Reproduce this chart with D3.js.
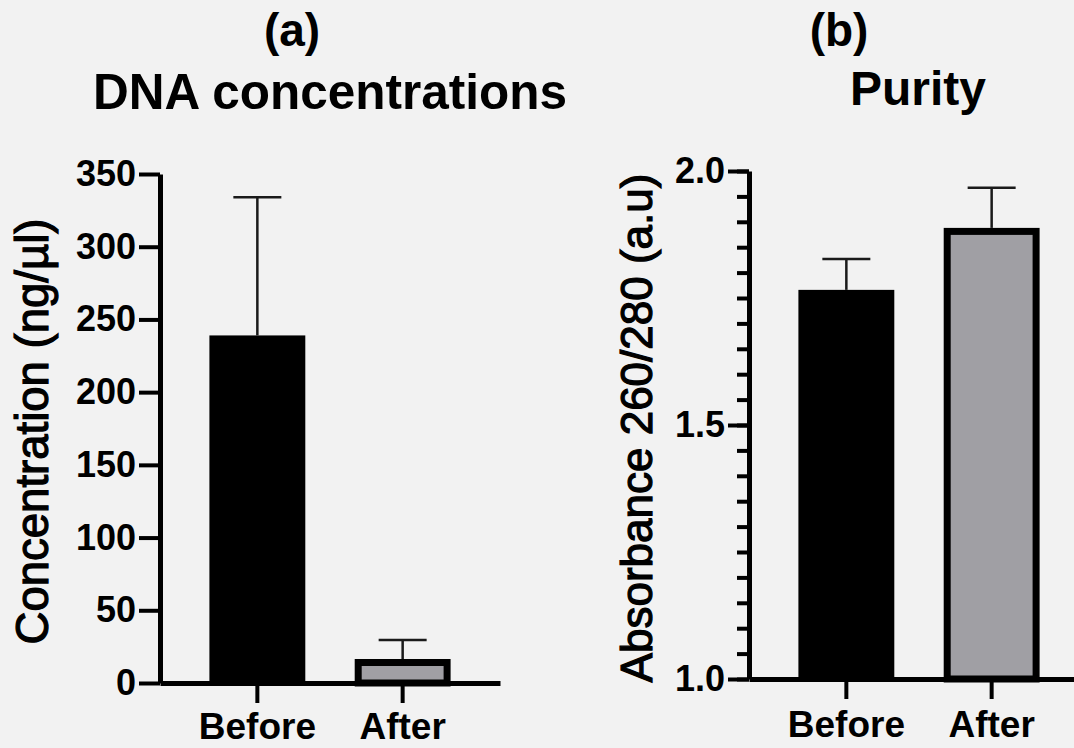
<!DOCTYPE html>
<html>
<head>
<meta charset="utf-8">
<script src="https://cdn.jsdelivr.net/npm/d3@7"></script>
<style>
  body { margin: 0; background: #f2f2f2; }
  svg { display: block; font-family: "Liberation Sans", Arial, sans-serif; }
</style>
</head>
<body>
<svg id="chart"></svg>
<script>
// data
const categories = ["Before", "After"];
const concMean = [239, 16.5];
const concSD = [95, 13];
const purityMean = [1.766, 1.888];
const puritySD = [0.061, 0.079];
const concTicks = [0, 50, 100, 150, 200, 250, 300, 350];
const purityTicks = [1.0, 1.5, 2.0];
const purityMinor = d3.range(0, 21).map(function(i) { return 1 + i * 0.05; });

const width = 1074;
const height = 748;
const barColors = ["#000000", "#a09fa4"];

var svg = d3.select("#chart")
  .attr("width", width)
  .attr("height", height);

svg.append("rect")
  .attr("width", width)
  .attr("height", height)
  .attr("fill", "#f2f2f2");

// one panel = band x scale + linear y scale, drawn at its own place
function drawPanel(opt) {
  var g = svg.append("g");

  var x = d3.scaleBand()
    .domain(categories)
    .range([opt.left, opt.right])
    .padding(0.34);

  var y = d3.scaleLinear()
    .domain(opt.domain)
    .range([opt.bottom, opt.top]);

  // minor ticks (panel b only)
  if (opt.minor) {
    g.append("g")
      .attr("transform", "translate(" + opt.left + ",0)")
      .call(d3.axisLeft(y).tickValues(opt.minor).tickSize(12).tickSizeOuter(0).tickFormat(""))
      .call(function(a) {
        a.select(".domain").remove();
        a.selectAll("line").attr("stroke", "#000").attr("stroke-width", 4);
      });
  }

  // y axis
  var yAxis = g.append("g")
    .attr("transform", "translate(" + opt.left + ",0)")
    .call(d3.axisLeft(y).tickValues(opt.ticks).tickSize(21).tickSizeOuter(0)
      .tickPadding(3).tickFormat(opt.format));
  yAxis.select(".domain").attr("stroke", "#000").attr("stroke-width", 5);
  yAxis.selectAll(".tick line").attr("stroke", "#000").attr("stroke-width", 4);
  yAxis.selectAll(".tick text")
    .attr("fill", "#000")
    .style("font-size", "36px")
    .style("font-weight", "bold");

  // bars
  g.selectAll(".bar")
    .data(categories)
    .enter().append("rect")
    .attr("class", "bar")
    .attr("x", function(d, i) { return x(d) + (i ? 3.5 : 0); })
    .attr("y", function(d, i) { return y(opt.mean[i]) + (i ? 3.5 : 0); })
    .attr("width", function(d, i) { return x.bandwidth() - (i ? 7 : 0); })
    .attr("height", function(d, i) { return y(opt.domain[0]) - y(opt.mean[i]) - (i ? 3.5 : 0); })
    .attr("fill", function(d, i) { return barColors[i]; })
    .attr("stroke", function(d, i) { return i ? "#000" : "none"; })
    .attr("stroke-width", 7);

  // error bars (upper only)
  g.selectAll(".err")
    .data(categories)
    .enter().append("line")
    .attr("x1", function(d) { return x(d) + x.bandwidth() / 2; })
    .attr("x2", function(d) { return x(d) + x.bandwidth() / 2; })
    .attr("y1", function(d, i) { return y(opt.mean[i]); })
    .attr("y2", function(d, i) { return y(opt.mean[i] + opt.sd[i]); })
    .attr("stroke", "#1a1a1a")
    .attr("stroke-width", 2.5);

  g.selectAll(".cap")
    .data(categories)
    .enter().append("line")
    .attr("x1", function(d) { return x(d) + x.bandwidth() / 2 - 24; })
    .attr("x2", function(d) { return x(d) + x.bandwidth() / 2 + 24; })
    .attr("y1", function(d, i) { return y(opt.mean[i] + opt.sd[i]); })
    .attr("y2", function(d, i) { return y(opt.mean[i] + opt.sd[i]); })
    .attr("stroke", "#1a1a1a")
    .attr("stroke-width", 2.5);

  // x axis
  var xAxis = g.append("g")
    .attr("transform", "translate(0," + opt.bottom + ")")
    .call(d3.axisBottom(x).tickSize(20).tickSizeOuter(0).tickPadding(opt.xPad));
  xAxis.select(".domain").attr("stroke", "#000").attr("stroke-width", 5);
  xAxis.selectAll(".tick line").attr("stroke", "#000").attr("stroke-width", 4);
  xAxis.selectAll(".tick text")
    .attr("fill", "#000")
    .style("font-size", "37px")
    .style("font-weight", "bold");

  // y label
  g.append("text")
    .attr("transform", "translate(" + opt.labelX + "," + ((opt.top + opt.bottom) / 2 + 3) + ") rotate(-90)")
    .attr("text-anchor", "middle")
    .style("font-size", opt.labelSize + "px")
    .attr("stroke", "#000")
    .attr("stroke-width", 1.2)
    .text(opt.yLabel);

  // panel letter and title
  g.append("text")
    .attr("x", opt.letterX)
    .attr("y", 46)
    .attr("text-anchor", "middle")
    .style("font-size", "46px")
    .style("font-weight", "bold")
    .text(opt.letter);

  g.append("text")
    .attr("x", opt.titleX)
    .attr("y", opt.titleY)
    .attr("text-anchor", "middle")
    .style("font-size", opt.titleSize + "px")
    .style("font-weight", "bold")
    .text(opt.title);
}

drawPanel({
  left: 160, right: 500, top: 174, bottom: 683, xPad: 10,
  domain: [0, 350], ticks: concTicks, format: d3.format("d"),
  mean: concMean, sd: concSD,
  yLabel: "Concentration (ng/\u00b5l)", labelX: 48, labelSize: 45.5,
  letter: "(a)", letterX: 292, title: "DNA concentrations", titleX: 330, titleY: 109, titleSize: 49.5
});

drawPanel({
  left: 749, right: 1089, top: 171, bottom: 679, xPad: 12,
  domain: [1, 2], ticks: purityTicks, format: d3.format(".1f"), minor: purityMinor,
  mean: purityMean, sd: puritySD,
  yLabel: "Absorbance 260/280 (a.u)", labelX: 652, labelSize: 44,
  letter: "(b)", letterX: 839, title: "Purity", titleX: 918, titleY: 105, titleSize: 48
});
</script>
</body>
</html>
